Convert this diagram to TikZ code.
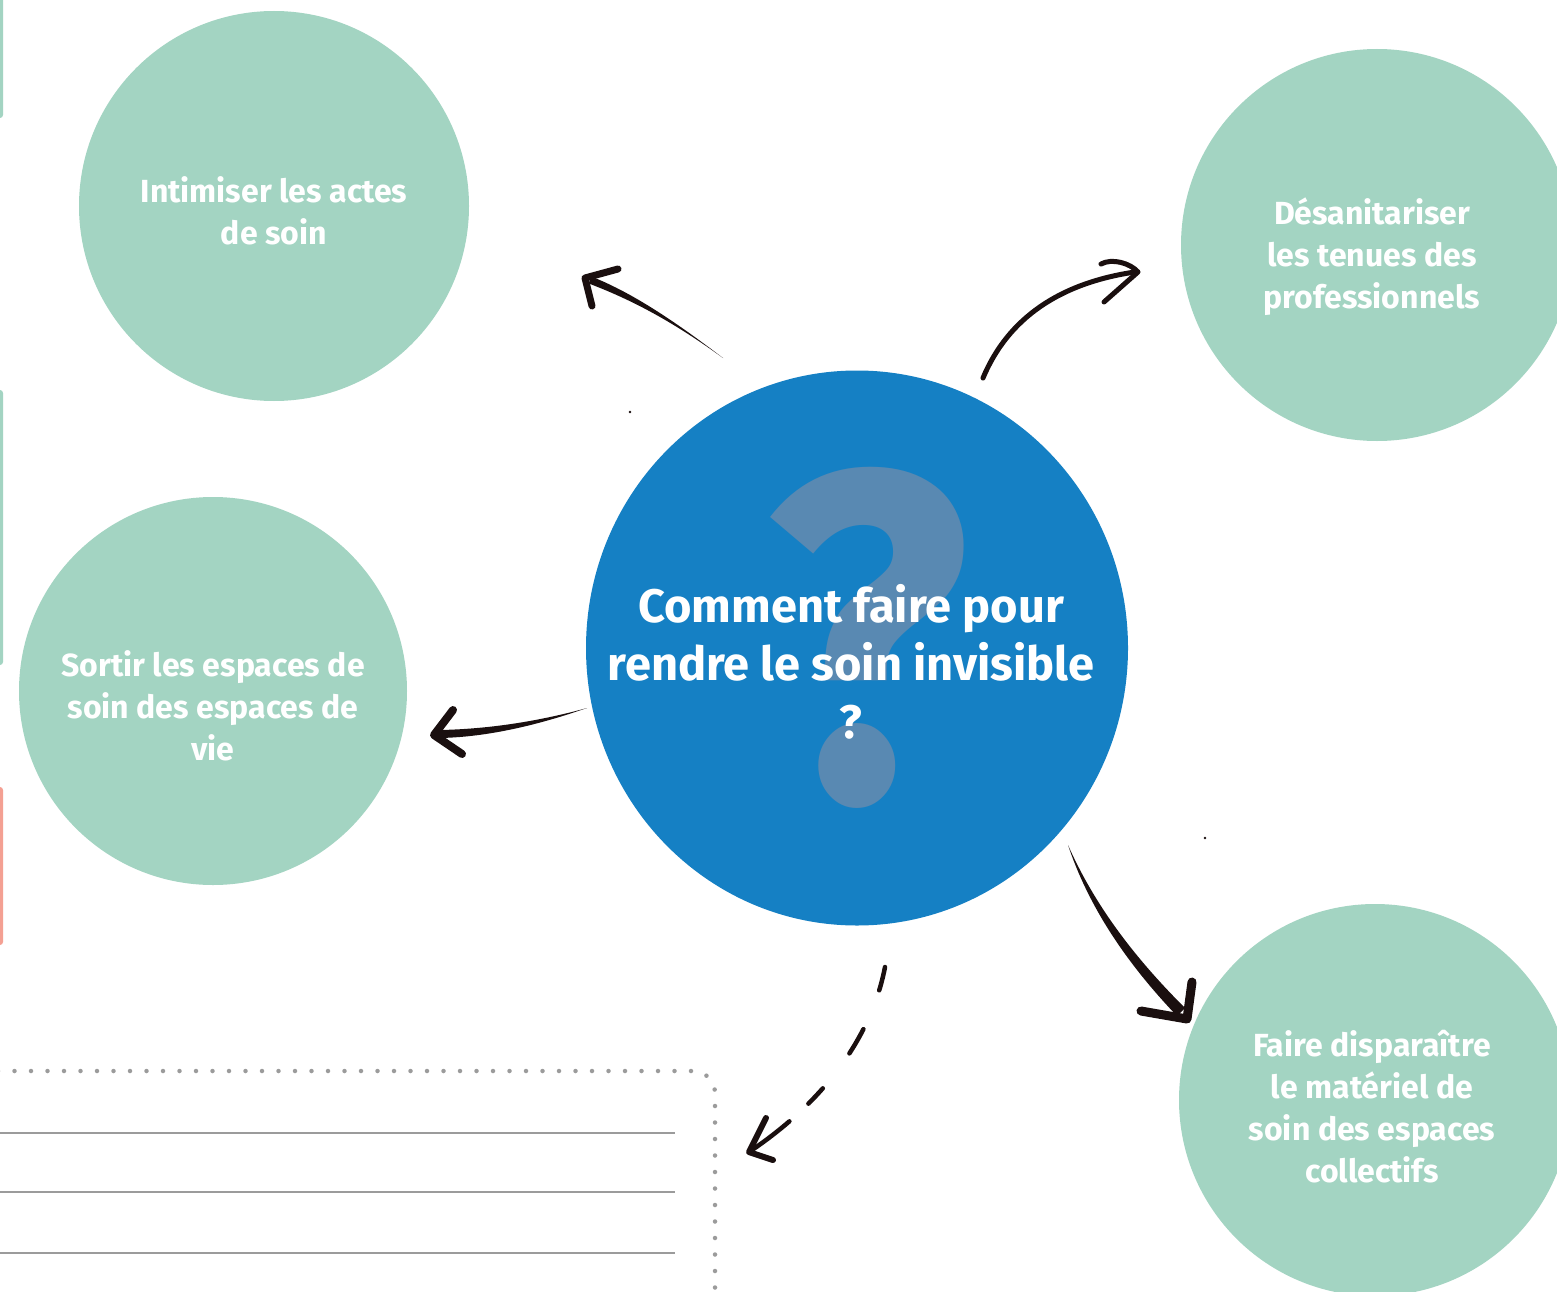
\documentclass[tikz,border=0pt]{standalone}
\usepackage{fontspec}
\setmainfont{Fira Sans}
\usetikzlibrary{shapes.geometric}
\definecolor{mint}{RGB}{163,212,194}
\definecolor{bleu}{RGB}{21,128,196}
\definecolor{qm}{RGB}{89,137,178}
\definecolor{ink}{RGB}{26,15,15}
\definecolor{rose}{RGB}{244,160,147}
\definecolor{grisl}{RGB}{155,155,155}
\begin{document}
\begin{tikzpicture}[x=1pt,y=-1pt,
  bubble/.style={circle, fill=mint, inner sep=0pt, minimum size=#1},
  gtext/.style={text=white, font=\bfseries\fontsize{32}{42}\selectfont, align=center, inner sep=0pt},
  ctext/.style={text=white, font=\bfseries\fontsize{47}{58}\selectfont, align=center, inner sep=0pt},
  inkline/.style={draw=ink, line cap=round, line join=round, line width=#1},
  inkfill/.style={fill=ink},
  sidebar/.style={rounded corners=3pt},
  rule/.style={draw=grisl, line width=2.5pt}]
\useasboundingbox (0,0) rectangle (1557,1292);
\clip (0,0) rectangle (1557,1292);
\fill[white] (0,0) rectangle (1557,1292);

% left side bars
\fill[mint, sidebar] (-10,-10) rectangle (3,118);
\fill[mint, sidebar] (-10,390) rectangle (3,665);
\fill[rose, sidebar] (-10,787) rectangle (3,945);

% dotted box and rules
\draw[grisl, line width=4.5pt, line cap=round, dash pattern=on 0pt off 16.5pt, rounded corners=22pt]
  (-2,1071) -- (715,1071) -- (715,1290);
\draw[rule] (-5,1133) -- (675,1133);
\draw[rule] (-5,1192) -- (675,1192);
\draw[rule] (-5,1253) -- (675,1253);

% bubbles
\node[bubble=390pt] (c1) at (274,206) {};
\node[bubble=392pt] (c2) at (1377,245) {};
\node[bubble=388pt] (c3) at (213,691) {};
\node[bubble=392pt] (c4) at (1375,1100) {};
\node[ellipse, fill=bleu, inner sep=0pt, minimum width=542pt, minimum height=555pt] (c0) at (857,648) {};

% big question mark
\node[text=qm, inner sep=0pt] (qmark) at (867,638)
  {\resizebox{205pt}{333pt}{\bfseries ?}};

% texts
\node[gtext] (t1) at (274,211) {Intimiser les actes\\de soin};
\node[gtext] (t2) at (1372,257) {Désanitariser\\les tenues des\\professionnels};
\node[gtext] (t3) at (213,706) {Sortir les espaces de\\soin des espaces de\\vie};
\node[gtext] (t4) at (1372,1107) {Faire disparaître\\le matériel de\\soin des espaces\\collectifs};
\node[ctext] (t0) at (851,662) {Comment faire pour\\rendre le soin invisible\\?};

% arrow coordinates
\coordinate (a1s) at (723,358);
\coordinate (a1e) at (590,280);
\coordinate (a2s) at (983,378);
\coordinate (a2e) at (1135,272);
\coordinate (a3s) at (587,708);
\coordinate (a3e) at (440,734);
\coordinate (a4s) at (1068,845);
\coordinate (a4e) at (1181,1012);
\coordinate (a5s) at (885,967);
\coordinate (a5e) at (752,1150);

% arrow 1 (to c1)
\fill[inkfill] (a1s) .. controls (668,316) and (628,291) .. ([shift={(1.2,-3.5)}]a1e)
  -- ([shift={(-1.2,3.5)}]a1e) .. controls (632,300) and (672,321) .. (a1s);
\draw[inkline=7pt] (618,269) -- (585,278) -- (592,306);

% arrow 2 (to c2)
\draw[inkline=5pt] (a2s) .. controls (1008,318) and (1060,283) .. (a2e);
\draw[inkline=5pt] (1101,264) .. controls (1112,258) and (1130,263) .. (1138,272) -- (1104,302);

% arrow 3 (to c3)
\fill[inkfill] (a3s) .. controls (540,721) and (490,729) .. ([shift={(0,-4)}]a3e)
  -- ([shift={(0,4)}]a3e) .. controls (490,737) and (541,724) .. (a3s);
\draw[inkline=8pt] (453,710) -- (434,735) -- (462,754);

% arrow 4 (to c4)
\fill[inkfill] (a4s) .. controls (1098,913) and (1143,966) .. ([shift={(4,-4)}]a4e)
  -- ([shift={(-4,4)}]a4e) .. controls (1137,974) and (1092,917) .. (a4s);
\draw[inkline=9pt] (1192,982) -- (1187,1019) -- (1141,1011);

% arrow 5 (dashed)
\draw[inkline=4.5pt, dash pattern=on 24pt off 42pt on 28pt off 44pt on 21pt off 26pt on 90pt]
  (a5s) .. controls (875,1020) and (840,1090) .. (a5e);
\draw[inkline=6pt] (766,1118) -- (749,1152) -- (773,1160);

% specks
\fill[ink] (630,412) circle (1.3pt);
\fill[ink] (1205,838) circle (1.3pt);
\end{tikzpicture}
\end{document}
